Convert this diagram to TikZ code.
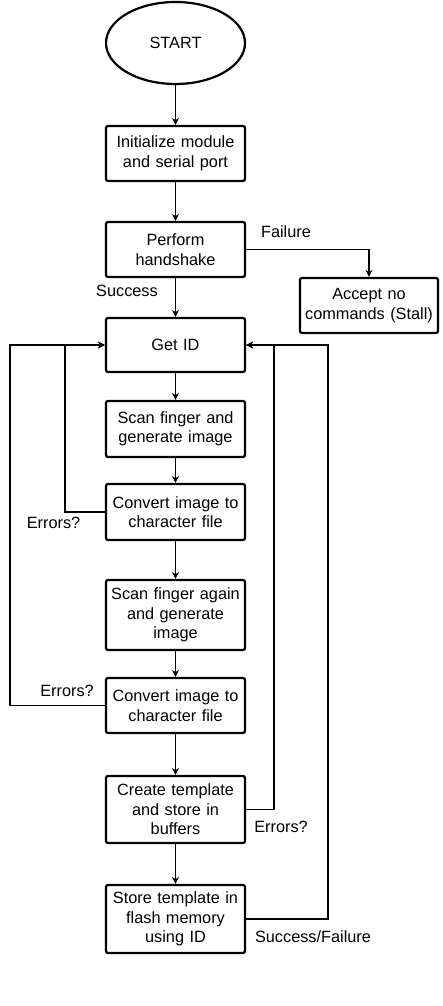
\documentclass[tikz,border=0pt]{standalone}
\usepackage{fontspec}
\setmainfont{Liberation Sans}
\usetikzlibrary{arrows.meta,shapes.geometric}

\begin{document}
\begin{tikzpicture}[x=1pt,y=-1pt,
    every node/.style={font=\fontsize{16.3}{19.5}\selectfont},
    stepbox/.style={draw,line width=2.2pt,rounded corners=2pt,minimum width=139pt,
      text width=139pt,align=center,inner sep=0pt},
    flow/.style={-{Stealth[length=7pt,width=7pt]},line width=1.2pt},
    loop/.style={-{Stealth[length=7pt,width=7pt]},line width=1.5pt}]

    \useasboundingbox (0,0) rectangle (442,1006);

    \node[draw,ellipse,line width=2.2pt,minimum width=139pt,minimum height=82pt] (start) at (175.5,43) {START};

    \node[stepbox,minimum height=55pt] (init) at (175.5,153.5) {Initialize module\\ and serial port};
    \node[stepbox,minimum height=55pt] (hand) at (175.5,249.5) {Perform\\ handshake};
    \node[stepbox,minimum height=55pt,minimum width=138pt,text width=138pt] (stall) at (369,305.5) {Accept no\\ commands (Stall)};
    \node[stepbox,minimum height=54pt] (getid) at (175.5,345) {Get ID};
    \node[stepbox,minimum height=56pt] (scana) at (175.5,429) {Scan finger and\\ generate image};
    \node[stepbox,minimum height=56pt] (conva) at (175.5,512) {Convert image to\\ character file};
    \node[stepbox,minimum height=70pt] (scanb) at (175.5,615) {Scan finger again\\ and generate\\ image};
    \node[stepbox,minimum height=55pt] (convb) at (175.5,705.5) {Convert image to\\ character file};
    \node[stepbox,minimum height=67pt] (create) at (175.5,809.5) {Create template\\ and store in\\ buffers};
    \node[stepbox,minimum height=68pt] (store) at (175.5,919) {Store template in\\ flash memory\\ using ID};

    \draw[flow] (start) -- (init);
    \draw[flow] (init) -- (hand);
    \draw[flow] (hand) -- (getid);
    \draw[flow] (getid) -- (scana);
    \draw[flow] (scana) -- (conva);
    \draw[flow] (conva) -- (scanb);
    \draw[flow] (scanb) -- (convb);
    \draw[flow] (convb) -- (create);
    \draw[flow] (create) -- (store);

    \draw[flow] (hand.east) -| (stall.north);

    \draw[loop] (conva.west) -- ++(-40,0) |- (getid.west);
    \draw[loop] (convb.west) -- ++(-95,0) |- (getid.west);
    \draw[loop] (create.east) -- ++(28,0) |- (getid.east);
    \draw[loop] (store.east) -- ++(82,0) |- (getid.east);

    \node (lfail) at (286,232) {Failure};
    \node (lsucc) at (127,291) {Success};
    \node (lerra) at (53.5,523) {Errors?};
    \node (lerrb) at (67,691) {Errors?};
    \node (lerrc) at (281,827) {Errors?};
    \node (lsf) at (313,937) {Success/Failure};

  \end{tikzpicture}
\end{document}
